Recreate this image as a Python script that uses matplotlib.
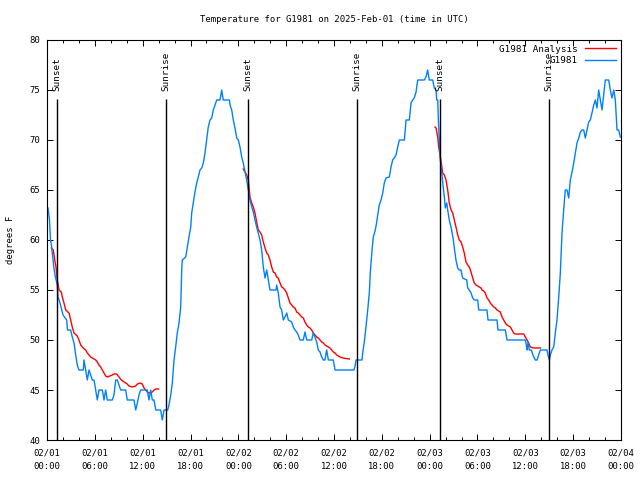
import matplotlib
matplotlib.use("Agg")
import matplotlib.pyplot as plt
from matplotlib.ticker import MultipleLocator

plt.rcParams['font.family'] = ['DejaVu Sans Mono']
FS = 6.4

# ---- data (time in hours since 2025-02-01 00:00 UTC, temperature in deg F) ----
obs_hours = [0.13, 0.31, 0.44, 0.56, 0.69, 0.82, 1.00, 1.29, 1.38, 1.63, 2.01, 2.47, 2.57, 2.97, 3.17, 3.39,
             3.60, 3.80, 4.01, 4.55, 4.64, 4.85, 5.06, 5.27, 5.48, 5.68, 5.90, 6.11, 6.31, 6.52, 6.94, 7.15,
             7.36, 7.56, 8.19, 8.40, 8.62, 8.82, 9.03, 9.24, 9.87, 10.07, 10.91, 11.13, 11.33, 11.54, 11.75,
             12.58, 12.79, 13.01, 13.21, 13.42, 13.64, 14.26, 14.46, 14.68, 15.14, 15.30, 15.52, 15.72,
             15.93, 16.14, 16.34, 16.56, 16.77, 16.90, 16.97, 17.40, 17.60, 17.81, 18.03, 18.15, 18.35,
             18.56, 18.78, 18.98, 19.19, 19.41, 19.61, 19.82, 20.03, 20.23, 20.45, 20.66, 20.86, 21.07,
             21.29, 21.70, 21.91, 22.11, 22.87, 22.96, 23.17, 23.37, 23.58, 23.80, 24.00, 24.21, 24.42,
             24.62, 24.84, 25.05, 25.25, 25.46, 25.68, 25.88, 26.09, 26.30, 26.50, 26.72, 26.93, 27.13,
             27.35, 27.56, 27.76, 27.97, 28.73, 28.81, 29.01, 29.23, 29.44, 29.64, 29.85, 30.07, 30.27,
             30.69, 30.90, 31.11, 31.32, 31.52, 31.74, 32.15, 32.36, 32.58, 33.20, 33.40, 33.62, 33.83,
             34.03, 34.24, 34.46, 34.66, 34.87, 35.08, 35.29, 35.91, 36.13, 38.51, 38.67, 38.76, 39.51,
             39.60, 39.80, 40.01, 40.23, 40.43, 40.55, 40.77, 40.93, 41.18, 41.36, 41.52, 41.68, 41.90,
             42.11, 42.31, 42.52, 42.94, 43.15, 43.36, 43.56, 43.78, 43.99, 44.19, 44.82, 44.94, 45.03,
             45.45, 45.66, 45.87, 46.07, 46.29, 46.50, 47.33, 47.54, 47.75, 47.95, 48.38, 48.58, 48.80,
             48.88, 49.01, 49.09, 49.21, 49.33, 49.46, 49.64, 49.84, 49.96, 50.14, 50.26, 50.46, 50.68,
             50.80, 50.97, 51.09, 51.30, 51.52, 51.72, 51.93, 52.14, 52.65, 52.77, 52.97, 53.19, 53.40,
             53.60, 54.03, 54.15, 55.19, 55.32, 56.45, 56.57, 57.49, 57.70, 60.00, 60.12, 60.21, 60.34,
             60.50, 60.75, 60.96, 61.25, 61.47, 61.68, 61.88, 62.72, 62.84, 63.01, 63.13, 63.35, 63.56,
             63.76, 63.97, 64.19, 64.39, 64.60, 64.81, 65.01, 65.23, 65.44, 65.64, 65.86, 66.07, 66.27,
             66.48, 66.70, 66.90, 67.11, 67.32, 67.52, 67.74, 67.95, 68.15, 68.36, 68.58, 68.78, 68.99,
             69.20, 69.41, 69.62, 69.83, 70.03, 70.46, 70.66, 70.87, 71.09, 71.29, 71.41, 71.50, 71.71,
             71.91]
obs_temps = [63.2, 62.0, 60.0, 59.5, 58.5, 57.5, 56.5, 55.5, 54.3, 53.7, 52.5, 52.0, 51.0, 51.0, 50.3, 49.7,
             48.5, 47.5, 47.0, 47.0, 48.0, 47.0, 46.0, 47.0, 46.5, 46.0, 46.0, 45.0, 44.0, 45.0, 45.0, 44.0,
             45.0, 44.0, 44.0, 44.5, 46.0, 46.0, 45.5, 45.0, 45.0, 44.0, 44.0, 43.0, 43.7, 44.5, 45.0,
             45.0, 44.0, 45.0, 44.0, 44.0, 43.0, 43.0, 42.0, 43.0, 43.0, 43.5, 44.5, 45.7,
             48.0, 49.3, 50.7, 51.7, 53.3, 57.0, 58.0, 58.3, 59.3, 60.3, 61.3, 62.7, 63.7,
             64.8, 65.7, 66.3, 67.0, 67.2, 67.7, 68.7, 70.0, 71.3, 72.0, 72.2, 73.0, 73.5,
             74.0, 74.0, 75.0, 74.0, 74.0, 73.5, 73.0, 72.0, 71.2, 70.2, 70.0, 69.3, 68.3,
             67.7, 66.8, 66.0, 65.0, 64.0, 63.3, 62.8, 62.0, 61.3, 60.7, 60.0, 59.0, 57.3,
             56.2, 57.0, 56.0, 55.0, 55.0, 55.5, 54.7, 53.3, 53.0, 52.0, 52.3, 52.7, 52.0,
             51.8, 51.3, 51.0, 50.8, 50.5, 50.0, 50.0, 50.8, 50.0, 50.0, 50.7, 50.3, 49.8,
             49.0, 48.8, 48.3, 48.0, 48.0, 49.0, 48.0, 48.0, 47.0, 47.0, 47.5, 48.0, 48.0,
             48.7, 49.8, 51.3, 53.0, 54.7, 56.7, 59.0, 60.3, 61.0, 61.8, 62.7, 63.5, 64.0,
             64.7, 65.7, 66.2, 66.3, 67.3, 68.0, 68.2, 68.5, 69.3, 70.0, 70.0, 71.0, 72.0,
             72.0, 73.7, 74.0, 74.2, 74.8, 76.0, 76.0, 76.3, 77.0, 76.0, 76.0, 75.2, 75.0,
             74.0, 74.0, 72.0, 70.0, 68.0, 67.3, 65.7, 64.3, 63.2, 63.7, 63.0, 62.0, 61.3,
             60.8, 60.0, 59.2, 58.0, 57.2, 57.0, 57.0, 56.2, 56.0, 55.2, 55.0, 54.7, 54.2,
             54.0, 54.0, 53.0, 53.0, 52.0, 52.0, 51.0, 51.0, 50.0, 50.0, 49.5, 49.0, 49.8,
             49.0, 49.0, 48.5, 48.0, 48.0, 48.5, 49.0, 49.0, 48.5, 48.0, 48.5, 49.0, 49.3,
             50.7, 52.0, 54.3, 56.7, 60.7, 63.0, 65.0, 65.0, 64.2, 66.0, 66.8, 67.7, 68.7,
             69.7, 70.2, 70.8, 71.0, 71.0, 70.2, 71.0, 71.8, 72.0, 72.7, 73.5, 74.0, 73.2,
             75.0, 74.0, 73.0, 74.5, 76.0, 76.0, 75.0, 74.2, 75.0, 74.0, 72.3, 71.0, 71.0,
             70.3]

ana1_hours = [0.54, 0.79, 0.97, 1.13, 1.29, 1.51, 1.79, 1.92, 2.13, 2.35, 2.76, 2.97, 3.17, 3.39, 3.80, 4.01,
              4.23, 4.55, 4.85, 5.06, 5.27, 5.48, 5.68, 6.11, 6.31, 6.52, 6.74, 6.94, 7.15, 7.36, 7.56, 8.19,
              8.40, 8.74, 9.03, 9.32, 9.66, 10.07, 10.29, 10.70, 11.13, 11.33, 11.75, 11.95, 12.17, 12.38,
              12.58, 12.79, 13.21, 13.42, 13.64, 14.01]
ana1_temps = [59.2, 59.0, 58.0, 57.3, 56.0, 55.0, 54.8, 54.3, 53.7, 53.0, 52.7, 52.0, 51.3, 50.7, 50.4, 50.0,
              49.5, 49.2, 49.0, 48.7, 48.5, 48.3, 48.2, 48.0, 47.8, 47.5, 47.3, 47.0, 46.7, 46.4, 46.3, 46.5,
              46.6, 46.6, 46.3, 46.0, 45.8, 45.6, 45.4, 45.3, 45.4, 45.6, 45.7, 45.6, 45.2, 45.0,
              44.8, 44.7, 44.8, 45.0, 45.1, 45.1]
ana2_hours = [24.62, 25.05, 25.25, 25.46, 25.68, 25.88, 26.09, 26.30, 26.50, 26.72, 26.93, 27.13, 27.35,
              27.56, 27.76, 27.97, 28.18, 28.39, 28.60, 28.81, 29.01, 29.23, 29.44, 29.64, 29.85, 30.07,
              30.27, 30.48, 30.69, 30.90, 31.11, 31.32, 31.52, 31.74, 31.95, 32.15, 32.36, 32.58, 32.78,
              32.99, 33.20, 33.40, 33.62, 33.83, 34.03, 34.24, 34.46, 34.66, 34.87, 35.08, 35.29, 35.50,
              35.71, 35.91, 36.13, 36.34, 36.54, 36.75, 37.13, 37.50, 37.92]
ana2_temps = [67.1, 66.5, 66.0, 64.3, 63.7, 63.3, 62.7, 61.8, 61.0, 60.8, 60.5, 59.8, 59.2,
              58.7, 58.5, 58.0, 57.3, 56.8, 56.7, 56.3, 56.2, 55.7, 55.3, 55.2, 55.0, 54.7,
              54.2, 53.7, 53.5, 53.3, 53.2, 52.8, 52.7, 52.5, 52.3, 52.2, 51.8, 51.5, 51.3,
              51.2, 51.0, 50.7, 50.5, 50.3, 50.2, 50.0, 49.8, 49.7, 49.5, 49.4, 49.3, 49.2,
              49.0, 48.8, 48.7, 48.5, 48.4, 48.3, 48.2, 48.15, 48.1]
ana3_hours = [48.67, 48.80, 49.01, 49.13, 49.30, 49.46, 49.64, 49.84, 50.05, 50.26, 50.46, 50.68, 50.89,
              51.09, 51.30, 51.52, 51.72, 51.93, 52.14, 52.34, 52.56, 52.77, 52.97, 53.19, 53.40, 53.60,
              53.81, 54.03, 54.23, 54.44, 54.57, 54.78, 54.98, 55.19, 55.41, 55.61, 55.82, 56.03, 56.24,
              56.45, 56.66, 56.86, 57.08, 57.29, 57.49, 57.70, 57.91, 58.12, 58.33, 58.54, 58.74, 59.80,
              60.00, 60.21, 60.42, 60.62, 60.84, 61.05, 61.47, 61.88]
ana3_temps = [71.3, 71.2, 70.3, 69.3, 68.5, 67.7, 66.7, 66.5, 66.0, 65.0, 63.7, 63.0, 62.7,
              62.0, 61.3, 60.5, 60.0, 59.8, 59.3, 58.7, 57.8, 57.5, 57.3, 56.8, 56.2, 55.7,
              55.5, 55.4, 55.3, 55.2, 55.0, 54.9, 54.7, 54.2, 54.0, 53.7, 53.5, 53.3, 53.2,
              53.0, 52.9, 52.8, 52.3, 52.0, 51.7, 51.5, 51.4, 51.3, 51.0, 50.7, 50.6, 50.6,
              50.3, 50.0, 49.7, 49.3, 49.25, 49.2, 49.2, 49.2]

sun_hours = [1.29, 14.89, 25.25, 38.89, 49.33, 62.93]
sun_labels = ["Sunset", "Sunrise", "Sunset", "Sunrise", "Sunset", "Sunrise"]

tick_hours = [0, 6, 12, 18, 24, 30, 36, 42, 48, 54, 60, 66, 72]
tick_labels = ["02/01\n00:00", "02/01\n06:00", "02/01\n12:00", "02/01\n18:00", "02/02\n00:00",
               "02/02\n06:00", "02/02\n12:00", "02/02\n18:00", "02/03\n00:00", "02/03\n06:00",
               "02/03\n12:00", "02/03\n18:00", "02/04\n00:00"]
y_ticks = [40, 45, 50, 55, 60, 65, 70, 75, 80]

RED = "#ff0000"
BLUE = "#0080ff"

fig = plt.figure(figsize=(6.4, 4.8), dpi=100)
ax = fig.add_axes([47 / 640, 40 / 480, 574 / 640, 400 / 480])

ax.plot(ana1_hours, ana1_temps, color=RED, lw=1.0, label="G1981 Analysis")
ax.plot(ana2_hours, ana2_temps, color=RED, lw=1.0)
ax.plot(ana3_hours, ana3_temps, color=RED, lw=1.0)
ax.plot(obs_hours, obs_temps, color=BLUE, lw=1.0, label="G1981")

ax.vlines(sun_hours, 40, 74.1, color="black", lw=1.0)
for h, lab in zip(sun_hours, sun_labels):
    ax.text(h, 74.85, lab, rotation=90, ha="center", va="bottom", fontsize=FS + 0.3)

ax.set_xlim(0, 72)
ax.set_ylim(40, 80)
ax.set_xticks(tick_hours)
ax.set_xticklabels(tick_labels, linespacing=1.7)
ax.xaxis.set_minor_locator(MultipleLocator(2))
ax.set_yticks(y_ticks)
ax.tick_params(which="both", direction="in", top=True, right=True, labelsize=FS, width=0.7)
ax.tick_params(which="major", length=4.5)
ax.tick_params(which="minor", length=2.5)
ax.tick_params(axis="x", pad=6)
ax.tick_params(axis="y", pad=5)
for s in ax.spines.values():
    s.set_linewidth(0.8)

ax.set_ylabel("degrees F", fontsize=FS, labelpad=10)
ax.set_title("Temperature for G1981 on 2025-Feb-01 (time in UTC)", fontsize=FS, pad=13)

ax.legend(loc="upper right", frameon=False, fontsize=FS + 0.3, markerfirst=False,
          handlelength=3.4, handletextpad=0.8, labelspacing=0.3, borderaxespad=0.3,
          borderpad=0.2)

fig.savefig("out.png", dpi=100)
